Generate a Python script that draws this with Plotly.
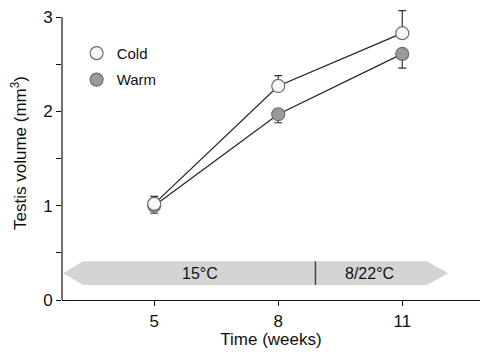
import plotly.graph_objects as go

weeks = [5, 8, 11]
cold = [1.02, 2.27, 2.83]
cold_err = [0.08, 0.11, 0.24]
warm = [1.00, 1.97, 2.61]
warm_err = [0.08, 0.09, 0.15]
tick_vals = [5, 8, 11]
tick_text = ["5", "8", "11"]
y_ticks = [0, 1, 2, 3]
y_axis_max = 3
band_labels = ["15°C", "8/22°C"]
band_label_x = [6.1, 10.2]
# arrow band geometry (data units)
band_left_tip, band_left_body, band_split, band_right_body, band_right_tip = 2.80, 3.28, 8.9, 11.6, 12.11
band_y0, band_y1 = 0.16, 0.41

font = "Liberation Sans, Arial, sans-serif"
line_col = "#222222"
edge_col = "#6e6e6e"

fig = go.Figure()

fig.add_trace(go.Scatter(
    x=weeks, y=warm, mode="lines+markers", showlegend=False,
    line=dict(color=line_col, width=1.2),
    marker=dict(size=13, color="#9a9a9c", line=dict(color=edge_col, width=1.2)),
    error_y=dict(type="data", symmetric=False, array=[0, 0, 0], arrayminus=warm_err,
                 color="#333333", thickness=1.2, width=4),
))
fig.add_trace(go.Scatter(
    x=weeks, y=cold, mode="lines+markers", showlegend=False,
    line=dict(color=line_col, width=1.2),
    marker=dict(size=13, color="#f7f7f7", line=dict(color=edge_col, width=1.2)),
    error_y=dict(type="data", symmetric=False, array=cold_err, arrayminus=[0, 0, 0],
                 color="#333333", thickness=1.2, width=4),
))
# legend entries
fig.add_trace(go.Scatter(x=[None], y=[None], mode="markers", name="Cold", legendgroup="c",
    marker=dict(size=13, color="#f7f7f7", line=dict(color=edge_col, width=1.2))))
fig.add_trace(go.Scatter(x=[None], y=[None], mode="markers", name="Warm", legendgroup="w",
    marker=dict(size=13, color="#9a9a9c", line=dict(color=edge_col, width=1.2))))

ym = (band_y0 + band_y1) / 2
path = (f"M {band_left_tip},{ym} L {band_left_body},{band_y1} L {band_right_body},{band_y1} "
        f"L {band_right_tip},{ym} L {band_right_body},{band_y0} L {band_left_body},{band_y0} Z")
fig.add_shape(type="path", path=path, xref="x", yref="y", fillcolor="#d4d4d4",
              line=dict(width=0), layer="below")
fig.add_shape(type="line", x0=band_split, x1=band_split, y0=band_y0, y1=band_y1,
              xref="x", yref="y", line=dict(color="#444444", width=1.5))
# y axis spine stopping at 3 (range extends above so the top error bar is not clipped)
fig.add_shape(type="line", xref="paper", yref="y", x0=0, x1=0, y0=0, y1=y_axis_max,
              line=dict(color="#111", width=1.2))
for lab, lx in zip(band_labels, band_label_x):
    fig.add_annotation(x=lx, y=ym, text=lab, showarrow=False, xref="x", yref="y",
                       font=dict(family=font, size=16, color="#111"))

fig.update_layout(
    width=486, height=356,
    margin=dict(l=62, r=6, t=6, b=56),
    paper_bgcolor="white", plot_bgcolor="white",
    font=dict(family=font, color="#111"),
    legend=dict(x=0.035, y=0.895, xanchor="left", yanchor="top", bgcolor="rgba(0,0,0,0)",
                font=dict(family=font, size=15, color="#111"), itemwidth=30,
                tracegroupgap=4),
)
fig.update_xaxes(range=[2.77, 12.88], tickvals=tick_vals, ticktext=tick_text,
                 showgrid=False, zeroline=False, showline=True, linecolor="#111",
                 linewidth=1.2, ticks="outside", ticklen=5, tickcolor="#111", automargin=False,
                 ticklabeloverflow="allow",
                 tickfont=dict(size=17), title=dict(text="Time (weeks)", font=dict(size=17), standoff=0))
fig.update_yaxes(range=[0, 3.118], tickvals=y_ticks, showgrid=False, zeroline=False,
                 showline=False, ticks="outside", automargin=False,
                 ticklen=5, tickcolor="#111", tickfont=dict(size=17), ticklabeloverflow="allow",
                 minor=dict(dtick=0.5, ticks="outside", ticklen=5, tickcolor="#111"),
                 title=dict(text="Testis volume (mm<sup>3</sup>)", font=dict(size=17), standoff=12))

fig.write_html("out.html", config={"displayModeBar": False},
               post_script="document.body.style.margin='0';document.body.style.overflow='hidden';")
